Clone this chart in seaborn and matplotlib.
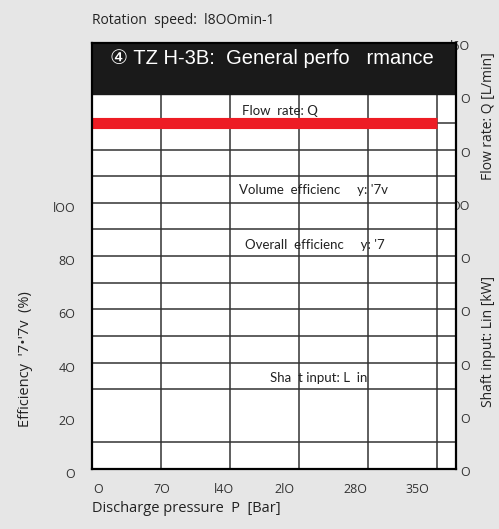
import matplotlib

matplotlib.use("Agg")

import matplotlib.pyplot as plt
import matplotlib.transforms as mtransforms
import pandas as pd
import seaborn as sns

# data
pressure = [0, 350]
flow_rate = [130, 130]

xgrid = [70, 140, 210, 280, 350]
ygrid = [10, 30, 40, 50, 60, 70, 80, 90, 100, 110, 120, 130]

xtick_pos = [6, 71, 134, 195, 267, 330]
xtick_labels = ["O", "7O", "l4O", "2lO", "28O", "35O"]
left_ticks = [0, 20, 40, 60, 80, 100]
left_labels = ["O", "2O", "4O", "6O", "8O", "lOO"]
right_ticks = [0, 20, 40, 60, 80, 100, 120, 140, 160]
right_labels = ["O", "O", "O", "O", "O", "OO", "O", "O", "l6O"]

curve_labels = ["Flow  rate: Q", "Volume  efficienc     y: '7v", "Overall  efficienc     y: '7", "Sha  t input: L  in"]
curve_label_x = [152, 149, 155, 180]
curve_label_y = [134.5, 104.8, 84, 34.2]

BG = "#e6e6e6"
GRID = "#333333"

sns.set_theme(style="white")
plt.rcParams["font.family"] = ["Open Sans", "DejaVu Sans"]

fig = plt.figure(figsize=(4.99, 5.29), dpi=100, facecolor=BG)
ax = fig.add_axes([0.1844, 0.1134, 0.7295, 0.8053])
ax.set_facecolor("white")
ax.set_xlim(0, 369)
ax.set_ylim(0, 160)

for x in xgrid:
    ax.axvline(x, color=GRID, lw=1.1, zorder=1)
for y in ygrid:
    ax.axhline(y, color=GRID, lw=1.1, zorder=1)

# black title band
ax.axhspan(141, 160, color="#1a1a1a", zorder=2)
ax.text(18, 154, "④ TZ H-3B:  General perfo   rmance", color="white", fontsize=14.5,
        family=["Liberation Sans", "DejaVu Sans"], va="center", ha="left", zorder=3)

df = pd.DataFrame({"P": pressure, "Q": flow_rate})
sns.lineplot(data=df, x="P", y="Q", ax=ax, color="#ed1c24", lw=8, zorder=4, solid_capstyle="butt")

for label, x, y in zip(curve_labels, curve_label_x, curve_label_y):
    ax.text(x, y, label, fontsize=9.5, family=["Lato", "DejaVu Sans"], color="#222222",
            ha="left", va="center", zorder=5)

for side in ["left", "right", "top", "bottom"]:
    ax.spines[side].set_color("black")
    ax.spines[side].set_linewidth(1.6)
    ax.spines[side].set_zorder(6)

shift = mtransforms.ScaledTranslation(0, -0.04, fig.dpi_scale_trans)
small_shift = mtransforms.ScaledTranslation(0, -0.02, fig.dpi_scale_trans)

ax.set_xticks(xtick_pos)
ax.set_xticklabels(xtick_labels)
ax.set_yticks(left_ticks)
ax.set_yticklabels(left_labels)
ax.tick_params(axis="x", length=0, pad=10, labelsize=9, colors="#333333")
ax.tick_params(axis="y", length=0, pad=12, labelsize=9, colors="#333333")
for lbl in ax.get_yticklabels():
    lbl.set_transform(lbl.get_transform() + shift)
ax.set_xlabel("Discharge pressure  P  [Bar]", fontsize=10.5, color="#222222", loc="left", labelpad=4)
ax.set_ylabel("Efficiency  '7•'7v  (%)", fontsize=10.5, color="#222222")
ax.yaxis.set_label_coords(-0.162, 0.258)

# right-hand labels sit partly underneath the plot panel
ax2 = ax.twinx()
ax2.set_zorder(-1)
ax2.patch.set_visible(False)
ax2.set_ylim(0, 160)
ax2.set_yticks(right_ticks)
ax2.set_yticklabels(right_labels)
ax2.tick_params(axis="y", length=0, pad=10, labelsize=9, colors="#333333")
for lbl in ax2.get_yticklabels():
    lbl.set_horizontalalignment("right")
    lbl.set_transform(lbl.get_transform() + small_shift)
for side in ["left", "right", "top", "bottom"]:
    ax2.spines[side].set_visible(False)
ax2.set_ylabel("")

fig.text(0.978, 0.78, "Flow rate: Q [L/min]", rotation=90, fontsize=10, color="#222222", ha="center", va="center")
fig.text(0.978, 0.355, "Shaft input: Lin [kW]", rotation=90, fontsize=10, color="#222222", ha="center", va="center")
fig.text(0.1844, 0.962, "Rotation  speed:  l8OOmin-1", fontsize=10, color="#222222", ha="left", va="center")

fig.savefig("out.png", dpi=100, facecolor=BG)
